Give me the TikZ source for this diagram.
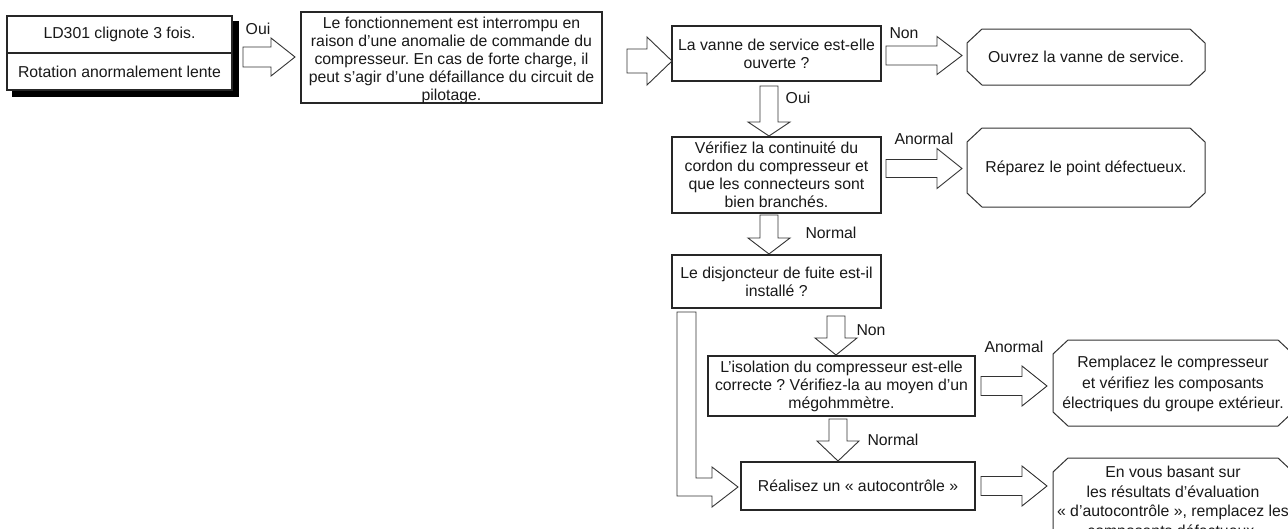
\documentclass[tikz,border=0pt]{standalone}
\usepackage{fontspec}
\setmainfont{Liberation Sans}
\frenchspacing
\newcommand\blkR[6]{\draw[arrline] (#1,{#4-#5}) -- (#2,{#4-#5}) -- (#2,{#4-#6}) -- (#3,#4) -- (#2,{#4+#6}) -- (#2,{#4+#5}) -- (#1,{#4+#5}) -- cycle;}
\newcommand\blkD[6]{\draw[arrline] ({#1-#5},#2) -- ({#1-#5},#3) -- ({#1-#6},#3) -- (#1,#4) -- ({#1+#6},#3) -- ({#1+#5},#3) -- ({#1+#5},#2) -- cycle;}
\newcommand\octpath[4]{\draw[octline] ({#1+15},#2) -- ({#3-15},#2) -- (#3,{#2+14}) -- (#3,{#4-14}) -- ({#3-15},#4) -- ({#1+15},#4) -- (#1,{#4-14}) -- (#1,{#2+14}) -- cycle;}
\begin{document}
\begin{tikzpicture}[x=1pt,y=-1pt,
  txt/.style={font=\fontsize{15.8}{18}\selectfont, align=center, inner sep=0pt, text=black!90},
  box/.style={txt, draw=black!85, line width=1.8pt, fill=white},
  thinbox/.style={txt, draw=black!85, line width=1.2pt, fill=white},
  octline/.style={draw=black!80, line width=1pt},
  arrline/.style={draw=black!80, line width=0.9pt, fill=white, line join=miter},
  lbl/.style={font=\fontsize{15.8}{18}\selectfont, inner sep=0pt, text=black!90}
]
\useasboundingbox (0,0) rectangle (1288,528);
\fill[white] (0,0) rectangle (1288,528);

% Box 1 with shadow
\fill[black] (12,21) rectangle (239,97);
\node[thinbox, minimum width=225pt, minimum height=37pt] (b1a) at (119.5,34.5) {LD301 clignote 3 fois.};
\node[thinbox, minimum width=225pt, minimum height=37pt] (b1b) at (119.5,71.5) {Rotation anormalement lente};

% Box 2
\node[box, minimum width=301pt, minimum height=91pt] (b2) at (451.5,57.5) {};
\node[txt] (b2t) at (451.5,60) {Le fonctionnement est interrompu en\\raison d’une anomalie de commande du\\compresseur. En cas de forte charge, il\\peut s’agir d’une défaillance du circuit de\\pilotage.};

% Box 3
\node[box, minimum width=209pt, minimum height=55pt] (b3) at (776.5,53.5) {La vanne de service est-elle\\ouverte ?};

% Box 4
\node[box, minimum width=209pt, minimum height=76pt] (b4) at (776.5,175) {Vérifiez la continuité du\\cordon du compresseur et\\que les connecteurs sont\\bien branchés.};

% Box 5
\node[box, minimum width=209pt, minimum height=53pt] (b5) at (776.5,281.5) {Le disjoncteur de fuite est-il\\installé ?};

% Box 6
\node[box, minimum width=267pt, minimum height=60pt] (b6) at (841.5,386) {L’isolation du compresseur est-elle\\correcte ? Vérifiez-la au moyen d’un\\mégohmmètre.};

% Box 7
\node[box, minimum width=234pt, minimum height=48pt] (b7) at (858,486) {Réalisez un « autocontrôle »};

% Octagons
\octpath{967}{29}{1205}{85}
\node[txt] (o1) at (1086,57) {Ouvrez la vanne de service.};
\octpath{967}{128}{1205}{207}
\node[txt] (o2) at (1086,168) {Réparez le point défectueux.};
\octpath{1053}{340}{1293}{426}
\node[txt, font=\fontsize{15.8}{20.5}\selectfont] (o3) at (1173,384) {Remplacez le compresseur\\et vérifiez les composants\\électriques du groupe extérieur.};
\octpath{1053}{458}{1293}{548}
\node[txt, font=\fontsize{15.8}{19.5}\selectfont] (o4) at (1173,503) {En vous basant sur\\les résultats d’évaluation\\« d’autocontrôle », remplacez les\\composants défectueux.};

% Arrows
\blkR{243}{271}{295}{57}{10}{19}
\blkR{627}{647}{672}{61}{12}{24}
\blkR{886}{937}{962}{55.5}{9.5}{19}
\blkD{769}{86}{122}{136}{9}{21}
\blkR{886}{937}{962}{168.5}{9}{20}
\blkD{769}{215}{238}{254}{9}{21}
\blkD{836}{316}{338}{355}{9}{21}
\blkR{981}{1022}{1047}{386}{9.5}{20}
\blkD{838}{419}{441}{461}{9}{21}
\blkR{981}{1022}{1047}{486}{9.5}{20}
% bypass arrow from b5 to b7
\draw[arrline] (677,312) -- (696,312) -- (696,478) -- (712,478) -- (712,467) -- (738,487) -- (712,507) -- (712,496) -- (677,496) -- cycle;

% Labels
\node[lbl] (l1) at (258,29) {Oui};
\node[lbl] (l2) at (904,33) {Non};
\node[lbl] (l3) at (798,98) {Oui};
\node[lbl] (l4) at (924,139) {Anormal};
\node[lbl] (l5) at (831,233) {Normal};
\node[lbl] (l6) at (871,330) {Non};
\node[lbl] (l7) at (1014,347) {Anormal};
\node[lbl] (l8) at (893,440) {Normal};
\end{tikzpicture}
\end{document}
